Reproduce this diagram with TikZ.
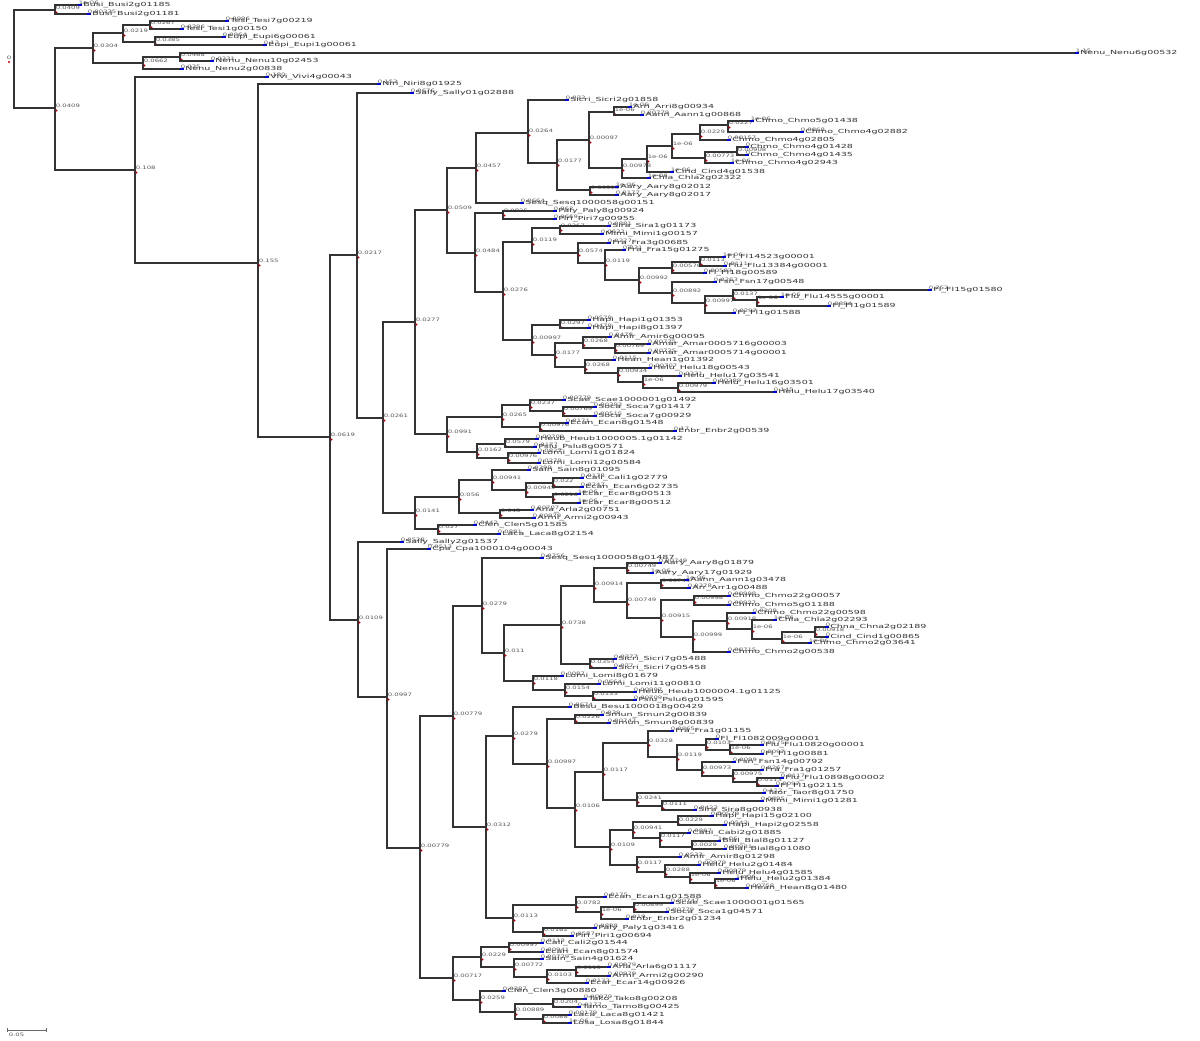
\documentclass[tikz,border=0pt]{standalone}
\usepackage{fontspec}
\newfontfamily\taxfamily[FakeStretch=1.7]{DejaVu Sans}
\newfontfamily\blfamily[FakeStretch=1.5]{DejaVu Sans}
\newcommand\taxfont{\taxfamily\fontsize{2.8}{3}\selectfont}
\newcommand\blfont{\blfamily\fontsize{2.3}{2.5}\selectfont}
\newlength\blw
\tikzset{
  branch/.style={draw=black!80, line width=0.7pt, line cap=rect},
  blen/.style={anchor=south west, inner sep=0.2pt, font=\blfont, text=black!65},
  taxon/.style={anchor=west, inner sep=0.2pt, font=\taxfont, text=black!80},
  tipmark/.style={draw=blue!80!black, line width=0.9pt},
  nodemark/.style={fill=red!75!black}
}
% leaf: x0, x1, y, branch length, name
\newcommand{\lf}[5]{%
  \settowidth{\blw}{\blfont #4}%
  \pgfmathsetmacro{\lx}{max(#1,#2-2*\blw)}%
  \draw[branch] (#1,#3) -- (#2,#3);
  \node[blen] at (\lx,#3) {#4};
  \draw[tipmark] (#2,#3) -- ++(4,0);
  \node[taxon] (leaf#3) at (#2+4.5,#3) {#5};
}
% inner node: x0, x, y, branch length, top y, bottom y
\newcommand{\nd}[6]{%
  \settowidth{\blw}{\blfont #4}%
  \pgfmathsetmacro{\lx}{max(#1,#2-2*\blw)}%
  \draw[branch] (#1,#3) -- (#2,#3);
  \draw[branch] (#2,#5) -- (#2,#6);
  \coordinate (node#2-#3) at (#2,#3);
  \node[blen] at (\lx,#3) {#4};
  \fill[nodemark] (\lx+1.5,#3+2.5) circle (0.6pt);
}
\begin{document}
\begin{tikzpicture}[x=0.5pt,y=-0.5pt]
\useasboundingbox (0,0) rectangle (1200,1040);
\fill[white] (0,0) rectangle (1200,1040);

% root
\draw[branch] (14,10) -- (14,108);
\node[blen, anchor=center] (root) at (9,58) {0};
\fill[nodemark] (9,62) circle (0.6pt);

% outgroups
\nd{14}{55}{10}{0.0409}{5}{14}
\lf{55}{78}{5}{1e-06}{Busi\_Busi2g01185}
\lf{55}{87}{14}{0.00335}{Busi\_Busi2g01181}
\nd{14}{55}{108}{0.0409}{48}{170}
\nd{55}{93}{48}{0.0304}{33}{63}
\nd{93}{123}{33}{0.0219}{25}{42}
\nd{123}{150}{25}{0.0267}{21}{29}
\lf{150}{225}{21}{0.0996}{Tesi\_Tesi7g00219}
\lf{150}{180}{29}{0.0396}{Tesi\_Tesi1g00150}
\nd{123}{155}{42}{0.0385}{37}{45}
\lf{155}{222}{37}{0.0964}{Eupi\_Eupi6g00061}
\lf{155}{263}{45}{0.13}{Eupi\_Eupi1g00061}
\nd{93}{143}{63}{0.0662}{57}{69}
\nd{143}{180}{57}{0.0468}{53}{61}
\lf{180}{1075}{53}{1.15}{Nenu\_Nenu6g00532}
\lf{180}{210}{61}{0.0331}{Nenu\_Nenu10g02453}
\lf{143}{180}{69}{0.035}{Nenu\_Nenu2g00838}
\nd{55}{135}{170}{0.108}{77}{263}
\lf{135}{265}{77}{0.180}{Vivi\_Vivi4g00043}
\nd{135}{258}{263}{0.155}{84}{437}
\lf{258}{377}{84}{0.153}{Niri\_Niri8g01925}
\nd{258}{330}{437}{0.0619}{255}{620}

% upper clade
\nd{330}{357}{255}{0.0217}{93}{418}
\lf{357}{410}{93}{0.0676}{Sally\_Sally01g02888}
\nd{357}{383}{418}{0.0261}{322}{513}
\nd{383}{415}{322}{0.0277}{210}{434}
\nd{415}{447}{210}{0.0509}{168}{253}
\nd{447}{476}{168}{0.0457}{133}{203}
\nd{476}{528}{133}{0.0264}{100}{163}
\lf{528}{565}{100}{0.033}{Sicri\_Sicri2g01858}
\nd{528}{557}{163}{0.0177}{140}{190}
\nd{557}{589}{140}{0.00097}{112}{168}
\nd{589}{614}{112}{1e-06}{107}{115}
\lf{614}{628}{107}{1e-06}{Arri\_Arri8g00934}
\lf{614}{640}{115}{0.00779}{Aann\_Aann1g00868}
\nd{589}{622}{168}{0.00978}{159}{178}
\nd{622}{647}{159}{1e-06}{146}{172}
\nd{647}{672}{146}{1e-06}{134}{158}
\nd{672}{700}{134}{0.0229}{125}{140}
\nd{700}{728}{125}{0.0227}{121}{132}
\lf{728}{750}{121}{1e-06}{Chmo\_Chmo5g01438}
\lf{728}{800}{132}{0.0868}{Chmo\_Chmo4g02882}
\lf{700}{727}{140}{0.00157}{Chmo\_Chmo4g02805}
\nd{672}{705}{158}{0.00773}{152}{163}
\nd{705}{737}{152}{0.00908}{147}{155}
\lf{737}{745}{147}{0}{Chmo\_Chmo4g01428}
\lf{737}{745}{155}{0}{Chmo\_Chmo4g01435}
\lf{705}{730}{163}{1e-06}{Chmo\_Chmo4g02943}
\lf{647}{670}{172}{1e-06}{Cind\_Cind4g01538}
\lf{622}{647}{178}{1e-06}{Chla\_Chla2g02322}
\nd{557}{590}{190}{0.00515}{187}{195}
\lf{590}{615}{187}{1e-06}{Aary\_Aary8g02012}
\lf{590}{615}{195}{0.0177}{Aary\_Aary8g02017}
\lf{476}{520}{203}{0.0664}{Sesq\_Sesq1000058g00151}
\nd{447}{475}{253}{0.0484}{213}{292}
\nd{475}{503}{213}{0.0825}{211}{219}
\lf{503}{553}{211}{0.062}{Paly\_Paly8g00924}
\lf{503}{553}{219}{0.0669}{Piri\_Piri7g00955}
\nd{475}{503}{292}{0.0276}{242}{340}
\nd{503}{532}{242}{0.0119}{228}{253}
\nd{532}{560}{228}{0.0267}{226}{234}
\lf{560}{607}{226}{0.0881}{Sira\_Sira1g01173}
\lf{560}{600}{234}{0.0632}{Mimi\_Mimi1g00157}
\nd{532}{578}{253}{0.0574}{243}{263}
\lf{578}{607}{243}{0.0327}{Fra\_Fra3g00685}
\nd{578}{605}{263}{0.0119}{250}{280}
\lf{605}{622}{250}{0.031}{Fra\_Fra15g01275}
\nd{605}{639}{280}{0.00992}{268}{293}
\nd{639}{672}{268}{0.00576}{262}{273}
\nd{672}{700}{262}{0.0113}{257}{266}
\lf{700}{722}{257}{1e-06}{Fl\_Fl14523g00001}
\lf{700}{723}{266}{0.0111}{Flu\_Flu13384g00001}
\lf{672}{703}{273}{0.00583}{Fl\_Fl18g00589}
\nd{639}{672}{293}{0.00892}{282}{303}
\lf{672}{713}{282}{0.0263}{Fsn\_Fsn17g00548}
\nd{672}{705}{303}{0.00997}{296}{313}
\nd{705}{733}{296}{0.0137}{290}{300}
\lf{733}{928}{290}{0.252}{Fl\_Fl15g01580}
\nd{733}{757}{300}{1e-06}{297}{306}
\lf{757}{780}{297}{1e-06}{Flu\_Flu14555g00001}
\lf{757}{827}{306}{0.0884}{Fl\_Fl1g01589}
\lf{705}{732}{313}{0.0297}{Fl\_Fl1g01588}
\nd{503}{532}{340}{0.00997}{325}{355}
\nd{532}{560}{325}{0.0297}{320}{328}
\lf{560}{587}{320}{0.0579}{Hapi\_Hapi1g01353}
\lf{560}{587}{328}{0.0479}{Hapi\_Hapi8g01397}
\nd{532}{555}{355}{0.0177}{343}{367}
\nd{555}{583}{343}{0.0268}{337}{348}
\lf{583}{608}{337}{0.0479}{Amir\_Amir6g00095}
\nd{583}{615}{348}{0.00769}{344}{353}
\lf{615}{647}{344}{0.00725}{Amar\_Amar0005716g00003}
\lf{615}{647}{353}{0.00725}{Amar\_Amar0005714g00001}
\nd{555}{585}{367}{0.0268}{360}{373}
\lf{585}{612}{360}{0.0115}{Hean\_Hean1g01392}
\nd{585}{618}{373}{0.00934}{368}{382}
\lf{618}{648}{368}{0.00707}{Helu\_Helu18g00543}
\nd{618}{643}{382}{1e-06}{376}{388}
\lf{643}{678}{376}{0.0321}{Helu\_Helu17g03541}
\nd{643}{678}{388}{0.00979}{383}{392}
\lf{678}{712}{383}{0.00389}{Helu\_Helu16g03501}
\lf{678}{773}{392}{0.145}{Helu\_Helu17g03540}
\nd{415}{447}{434}{0.0991}{417}{452}
\nd{447}{502}{417}{0.0265}{405}{427}
\nd{502}{530}{405}{0.0237}{400}{411}
\lf{530}{562}{400}{0.00779}{Scae\_Scae1000001g01492}
\nd{530}{563}{411}{0.00769}{407}{416}
\lf{563}{593}{407}{0.00393}{Soca\_Soca7g01417}
\lf{563}{593}{416}{0.00515}{Soca\_Soca7g00929}
\nd{502}{540}{427}{0.00976}{423}{431}
\lf{540}{565}{423}{0.0171}{Ecan\_Ecan8g01548}
\lf{540}{673}{431}{0.17}{Enbr\_Enbr2g00539}
\nd{447}{477}{452}{0.0162}{444}{458}
\nd{477}{505}{444}{0.0579}{439}{447}
\lf{505}{535}{439}{0.00709}{Heub\_Heub1000005.1g01142}
\lf{505}{533}{447}{0.0177}{Pslu\_Pslu8g00571}
\nd{477}{508}{458}{0.00976}{453}{463}
\lf{508}{537}{453}{0.0827}{Lomi\_Lomi1g01824}
\lf{508}{537}{463}{0.0279}{Lomi\_Lomi12g00584}
\nd{383}{415}{513}{0.0141}{497}{529}
\nd{415}{459}{497}{0.056}{480}{513}
\nd{459}{492}{480}{0.00941}{470}{490}
\lf{492}{527}{470}{0.0399}{Sain\_Sain8g01095}
\nd{492}{526}{490}{0.00945}{483}{497}
\nd{526}{553}{483}{0.022}{478}{487}
\lf{553}{580}{478}{0.0178}{Cali\_Cali1g02779}
\lf{553}{580}{487}{0.0247}{Ecan\_Ecan6g02735}
\nd{526}{553}{497}{0.0216}{494}{503}
\lf{553}{577}{494}{1e-06}{Ecar\_Ecar8g00513}
\lf{553}{577}{503}{1e-06}{Ecar\_Ecar8g00512}
\nd{459}{500}{513}{0.045}{510}{518}
\lf{500}{530}{510}{0.00707}{Arla\_Arla2g00751}
\lf{500}{532}{518}{0.00979}{Armi\_Armi2g00943}
\nd{415}{438}{529}{0.027}{525}{534}
\lf{438}{473}{525}{0.0442}{Clen\_Clen5g01585}
\lf{438}{497}{534}{0.0881}{Laca\_Laca8g02154}

% lower clade
\nd{330}{358}{620}{0.0109}{542}{697}
\lf{358}{400}{542}{0.0528}{Sally\_Sally2g01537}
\nd{358}{387}{697}{0.0997}{549}{848}
\lf{387}{427}{549}{0.0513}{Cpa\_Cpa1000104g00043}
\nd{387}{420}{848}{0.00779}{716}{978}
\nd{420}{453}{716}{0.00779}{606}{827}
\nd{453}{482}{606}{0.0279}{558}{653}
\lf{482}{540}{558}{0.0756}{Sesq\_Sesq1000058g01487}
\nd{482}{504}{653}{0.011}{625}{681}
\nd{504}{561}{625}{0.0738}{586}{664}
\nd{561}{594}{586}{0.00914}{568}{602}
\nd{594}{627}{568}{0.00749}{563}{573}
\lf{627}{658}{563}{0.00749}{Aary\_Aary8g01879}
\lf{627}{650}{573}{1e-06}{Aary\_Aary17g01929}
\nd{594}{627}{602}{0.00749}{583}{618}
\nd{627}{661}{583}{0.00749}{580}{588}
\lf{661}{685}{580}{1e-06}{Aann\_Aann1g03478}
\lf{661}{687}{588}{0.0378}{Arr\_Arr1g00488}
\nd{627}{661}{618}{0.00915}{600}{637}
\nd{661}{694}{600}{0.00998}{596}{605}
\lf{694}{727}{596}{0.00998}{Chmo\_Chmo22g00057}
\lf{694}{727}{605}{0.00927}{Chmo\_Chmo5g01188}
\nd{661}{693}{637}{0.00999}{621}{652}
\nd{693}{727}{621}{0.00918}{613}{629}
\lf{727}{752}{613}{0.0209}{Chmo\_Chmo22g00598}
\nd{727}{752}{629}{1e-06}{620}{639}
\lf{752}{773}{620}{1e-06}{Chla\_Chla2g02293}
\nd{752}{782}{639}{1e-06}{632}{643}
\nd{782}{815}{632}{0.00918}{627}{637}
\lf{815}{825}{627}{0}{Chna\_Chna2g02189}
\lf{815}{825}{637}{0}{Cind\_Cind1g00865}
\lf{782}{808}{643}{1e-06}{Chmo\_Chmo2g03641}
\lf{693}{727}{652}{0.00715}{Chmo\_Chmo2g00538}
\nd{561}{590}{664}{0.0354}{659}{668}
\lf{590}{613}{659}{0.0377}{Sicri\_Sicri7g05488}
\lf{590}{613}{668}{0.077}{Sicri\_Sicri7g05458}
\nd{504}{533}{681}{0.0118}{676}{690}
\lf{533}{560}{676}{0.0087}{Lomi\_Lomi8g01679}
\nd{533}{565}{690}{0.0154}{684}{696}
\lf{565}{597}{684}{0.0664}{Lomi\_Lomi11g00810}
\nd{565}{593}{696}{0.0133}{692}{700}
\lf{593}{633}{692}{0.00997}{Heub\_Heub1000004.1g01125}
\lf{593}{633}{700}{0.00709}{Pslu\_Pslu6g01595}
\nd{453}{486}{827}{0.0312}{736}{918}
\nd{486}{513}{736}{0.0279}{707}{764}
\lf{513}{568}{707}{0.0674}{Besu\_Besu1000018g00429}
\nd{513}{547}{764}{0.00997}{719}{808}
\nd{547}{575}{719}{0.0226}{715}{723}
\lf{575}{600}{715}{0.039}{Smun\_Smun2g00839}
\lf{575}{607}{723}{0.00747}{Smun\_Smun8g00839}
\nd{547}{575}{808}{0.0106}{772}{847}
\nd{575}{603}{772}{0.0117}{743}{800}
\nd{603}{648}{743}{0.0328}{731}{757}
\lf{648}{670}{731}{0.0865}{Fra\_Fra1g01155}
\nd{648}{677}{757}{0.0119}{745}{770}
\nd{677}{706}{745}{0.0103}{739}{750}
\lf{706}{715}{739}{0}{Fl\_Fl1082009g00001}
\nd{706}{730}{750}{1e-06}{745}{754}
\lf{730}{760}{745}{0.0175}{Flu\_Flu10820g00001}
\lf{730}{760}{754}{0.0097}{Fl\_Fl1g00881}
\nd{677}{702}{770}{0.00973}{762}{776}
\lf{702}{732}{762}{0.0099}{Fsn\_Fsn14g00792}
\nd{702}{733}{776}{0.00975}{770}{782}
\lf{733}{760}{770}{0.0267}{Fra\_Fra1g01257}
\nd{733}{757}{782}{0.0113}{778}{786}
\lf{757}{780}{778}{0.0117}{Flu\_Flu10898g00002}
\lf{757}{775}{786}{0.0097}{Fl\_Fl1g02115}
\nd{603}{637}{800}{0.0241}{793}{806}
\lf{637}{762}{793}{0.112}{Taor\_Taor8g01750}
\nd{637}{662}{806}{0.0111}{801}{810}
\lf{662}{760}{801}{0.0895}{Mimi\_Mimi1g01281}
\lf{662}{693}{810}{0.0423}{Sira\_Sira8g00938}
\nd{575}{610}{847}{0.0109}{830}{865}
\nd{610}{633}{830}{0.00941}{822}{838}
\nd{633}{678}{822}{0.0229}{816}{825}
\lf{678}{710}{816}{0.00579}{Hapi\_Hapi15g02100}
\lf{678}{723}{825}{0.0543}{Hapi\_Hapi2g02558}
\nd{633}{660}{838}{0.0117}{833}{847}
\lf{660}{687}{833}{0.0867}{Cabi\_Cabi2g01885}
\nd{660}{692}{847}{0.0029}{841}{849}
\lf{692}{717}{841}{1e-06}{Bial\_Bial8g01127}
\lf{692}{723}{849}{0.00931}{Bial\_Bial8g01080}
\nd{610}{637}{865}{0.0117}{857}{872}
\lf{637}{678}{857}{0.0533}{Amir\_Amir8g01298}
\nd{637}{665}{872}{0.0288}{865}{877}
\lf{665}{697}{865}{0.00979}{Helu\_Helu2g01484}
\nd{665}{690}{877}{1e-06}{873}{883}
\lf{690}{717}{873}{0.00979}{Helu\_Helu4g01585}
\nd{690}{715}{883}{1e-06}{879}{888}
\lf{715}{735}{879}{1e-06}{Helu\_Helu2g01384}
\lf{715}{745}{888}{0.00758}{Hean\_Hean8g01480}
\nd{486}{513}{918}{0.0113}{905}{932}
\nd{513}{576}{905}{0.0782}{897}{912}
\lf{576}{603}{897}{0.0175}{Ecan\_Ecan1g01588}
\nd{576}{601}{912}{1e-06}{907}{919}
\nd{601}{634}{907}{0.00899}{903}{912}
\lf{634}{670}{903}{0.00747}{Scae\_Scae1000001g01565}
\lf{634}{665}{912}{0.00779}{Soca\_Soca1g04571}
\lf{601}{625}{919}{0.019}{Enbr\_Enbr2g01234}
\nd{513}{543}{932}{0.0162}{928}{936}
\lf{543}{593}{928}{0.0888}{Paly\_Paly1g03416}
\lf{543}{570}{936}{0.0587}{Piri\_Piri1g00694}
\nd{420}{453}{978}{0.00717}{957}{1000}
\nd{453}{481}{957}{0.0229}{947}{967}
\nd{481}{509}{947}{0.00997}{943}{952}
\lf{509}{540}{943}{0.0113}{Cali\_Cali2g01544}
\lf{509}{540}{952}{0.00941}{Ecan\_Ecan8g01574}
\nd{481}{514}{967}{0.00772}{959}{977}
\lf{514}{540}{959}{0.00779}{Sain\_Sain4g01624}
\nd{514}{547}{977}{0.0103}{970}{983}
\nd{547}{576}{970}{0.0113}{967}{976}
\lf{576}{607}{967}{0.00979}{Arla\_Arla6g01117}
\lf{576}{607}{976}{0.00979}{Armi\_Armi2g00290}
\lf{547}{585}{983}{0.0133}{Ecar\_Ecar14g00926}
\nd{453}{480}{1000}{0.0259}{991}{1012}
\lf{480}{502}{991}{0.0387}{Clen\_Clen3g00880}
\nd{480}{515}{1012}{0.00889}{1004}{1019}
\nd{515}{553}{1004}{0.0204}{999}{1007}
\lf{553}{583}{999}{0.00979}{Tako\_Tako8g00208}
\lf{553}{577}{1007}{0.0177}{Tamo\_Tamo8g00425}
\nd{515}{543}{1019}{0.0088}{1015}{1023}
\lf{543}{568}{1015}{0.00179}{Laca\_Laca8g01421}
\lf{543}{568}{1023}{1e-06}{Losa\_Losa8g01844}

% scale bar
\coordinate (sb0) at (7,1030);
\coordinate (sb1) at (46,1030);
\draw[black!60, line width=0.5pt] (sb0) -- (sb1);
\draw[black!60, line width=0.5pt] (sb0) ++(0,-2) -- ++(0,4) (sb1) ++(0,-2) -- ++(0,4);
\node[blen, anchor=north west] (sbl) at (8,1032) {0.05};
\end{tikzpicture}
\end{document}
